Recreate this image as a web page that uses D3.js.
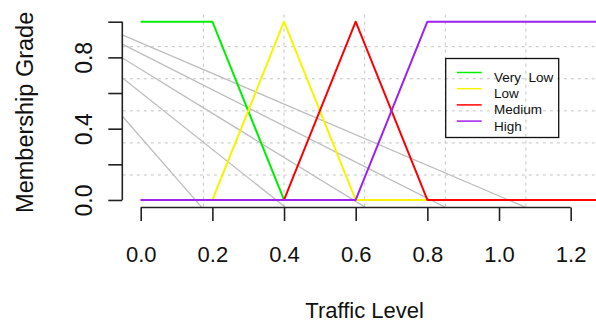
<!DOCTYPE html>
<html>
<head>
<meta charset="utf-8">
<script src="https://cdn.jsdelivr.net/npm/d3@7"></script>
<style>
  body { margin: 0; background: #fff; }
  svg { display: block; font-family: "Liberation Sans", Arial, sans-serif; }
</style>
</head>
<body>
<div id="chart"></div>
<script>
// breakpoints of the membership functions
const trafficLevel = [0, 0.2, 0.4, 0.6, 0.8, 1.3];
const veryLow = [1, 1, 0, 0, 0, 0];
const low     = [0, 0, 1, 0, 0, 0];
const medium  = [0, 0, 0, 1, 0, 0];
const high    = [0, 0, 0, 0, 1, 1];

const seriesNames = ['Very  Low', 'Low', 'Medium', 'High'];
const seriesColors = ['#00ee00', '#f5f500', '#ff0000', '#a020f0'];

// grey reference lines: y where they leave the left edge, x where they hit the bottom edge
const greyStartY = [0.925, 0.873, 0.795, 0.683, 0.467];
const greyEndX   = [1.073, 0.849, 0.626, 0.403, 0.170];

const xTicks = [0, 0.2, 0.4, 0.6, 0.8, 1.0, 1.2];
const yTicks = [0, 0.2, 0.4, 0.6, 0.8, 1.0];
const yLabelled = [0, 0.4, 0.8];

const width = 596, height = 324;
const region = {left: 122.8, right: 606.5, top: 14.6, bottom: 207.1};
const xDom = [-0.05, 1.30];
const yDom = [-0.04, 1.04];

const x = d3.scaleLinear().domain(xDom).range([region.left, region.right]);
const y = d3.scaleLinear().domain(yDom).range([region.bottom, region.top]);

const svg = d3.select('#chart').append('svg')
    .attr('width', width)
    .attr('height', height);

svg.append('defs').append('clipPath')
    .attr('id', 'plot-clip')
    .append('rect')
    .attr('x', region.left)
    .attr('y', region.top)
    .attr('width', region.right - region.left)
    .attr('height', region.bottom - region.top);

// dotted grid, 6 equal cells each way
const grid = svg.append('g')
    .attr('stroke', '#c4c4c4')
    .attr('stroke-width', 1)
    .attr('stroke-dasharray', '3,4');
grid.selectAll('.vgrid')
    .data(d3.range(1, 6).map(k => xDom[0] + k * (xDom[1] - xDom[0]) / 6))
    .join('line')
    .attr('class', 'vgrid')
    .attr('x1', d => x(d)).attr('x2', d => x(d))
    .attr('y1', region.top).attr('y2', region.bottom);
grid.selectAll('.hgrid')
    .data(d3.range(1, 6).map(k => yDom[0] + k * (yDom[1] - yDom[0]) / 6))
    .join('line')
    .attr('class', 'hgrid')
    .attr('x1', region.left).attr('x2', region.right)
    .attr('y1', d => y(d)).attr('y2', d => y(d));

const plot = svg.append('g').attr('clip-path', 'url(#plot-clip)');

// grey lines
plot.selectAll('.grey')
    .data(greyStartY.map((s, i) => ({s: s, e: greyEndX[i]})))
    .join('line')
    .attr('class', 'grey')
    .attr('x1', x(xDom[0])).attr('y1', d => y(d.s))
    .attr('x2', d => x(d.e)).attr('y2', y(yDom[0]))
    .attr('stroke', '#bebebe')
    .attr('stroke-width', 1.3);

// membership curves
const series = [veryLow, low, medium, high];
const line = d3.line()
    .x(d => x(d[0]))
    .y(d => y(d[1]));
plot.selectAll('.curve')
    .data(series)
    .join('path')
    .attr('class', 'curve')
    .attr('d', s => line(trafficLevel.map((t, i) => [t, s[i]])))
    .attr('fill', 'none')
    .attr('stroke', (d, i) => seriesColors[i])
    .attr('stroke-width', 2)
    .attr('stroke-linejoin', 'round');

// x axis
const xAxis = svg.append('g')
    .attr('transform', `translate(0,${region.bottom + 0.4})`)
    .call(d3.axisBottom(x).tickValues(xTicks).tickFormat(d3.format('.1f'))
        .tickSize(13.5).tickPadding(24.9));
xAxis.select('.domain').remove();
xAxis.append('line')
    .attr('x1', x(xTicks[0])).attr('x2', x(xTicks[xTicks.length - 1]))
    .attr('stroke', '#222');
xAxis.selectAll('line').attr('stroke', '#222').attr('stroke-width', 1.6);
xAxis.selectAll('text')
    .attr('fill', '#111')
    .style('font-size', '22px')
    .style('font-family', '"Liberation Sans", Arial, sans-serif');

// y axis
const yAxis = svg.append('g')
    .attr('transform', `translate(${region.left - 0.5},0)`)
    .call(d3.axisLeft(y).tickValues(yTicks)
        .tickFormat(d => yLabelled.includes(d) ? d3.format('.1f')(d) : '')
        .tickSize(14));
yAxis.select('.domain').remove();
yAxis.append('line')
    .attr('y1', y(yTicks[0])).attr('y2', y(yTicks[yTicks.length - 1]));
yAxis.selectAll('line').attr('stroke', '#222').attr('stroke-width', 1.6);
yAxis.selectAll('text')
    .attr('transform', 'rotate(-90)')
    .attr('x', 0)
    .attr('y', -30.8)
    .attr('dy', null)
    .attr('text-anchor', 'middle')
    .attr('fill', '#111')
    .style('font-size', '23px')
    .style('font-family', '"Liberation Sans", Arial, sans-serif');

// axis titles
svg.append('text')
    .attr('x', (region.left + region.right) / 2)
    .attr('y', 318.3)
    .attr('text-anchor', 'middle')
    .attr('fill', '#111')
    .style('font-size', '22px')
    .text('Traffic Level');

svg.append('text')
    .attr('transform', `translate(33,${(region.top + region.bottom) / 2 + 1.5}) rotate(-90)`)
    .attr('text-anchor', 'middle')
    .attr('fill', '#111')
    .style('font-size', '23.5px')
    .text('Membership Grade');

// legend
const legend = svg.append('g');
legend.append('rect')
    .attr('x', 445.7).attr('y', 58.5)
    .attr('width', 113).attr('height', 79)
    .attr('fill', 'none')
    .attr('stroke', '#111')
    .attr('stroke-width', 1.3);
const items = legend.selectAll('.item')
    .data(seriesNames)
    .join('g')
    .attr('class', 'item')
    .attr('transform', (d, i) => `translate(456.7,${72.5 + i * 16.2})`);
items.append('line')
    .attr('x2', 25)
    .attr('stroke', (d, i) => seriesColors[i])
    .attr('stroke-width', 1.5);
items.append('text')
    .attr('x', 37.3)
    .attr('y', 9.5)
    .attr('fill', '#111')
    .style('font-size', '13.5px')
    .style('white-space', 'pre')
    .text(d => d);
</script>
</body>
</html>
